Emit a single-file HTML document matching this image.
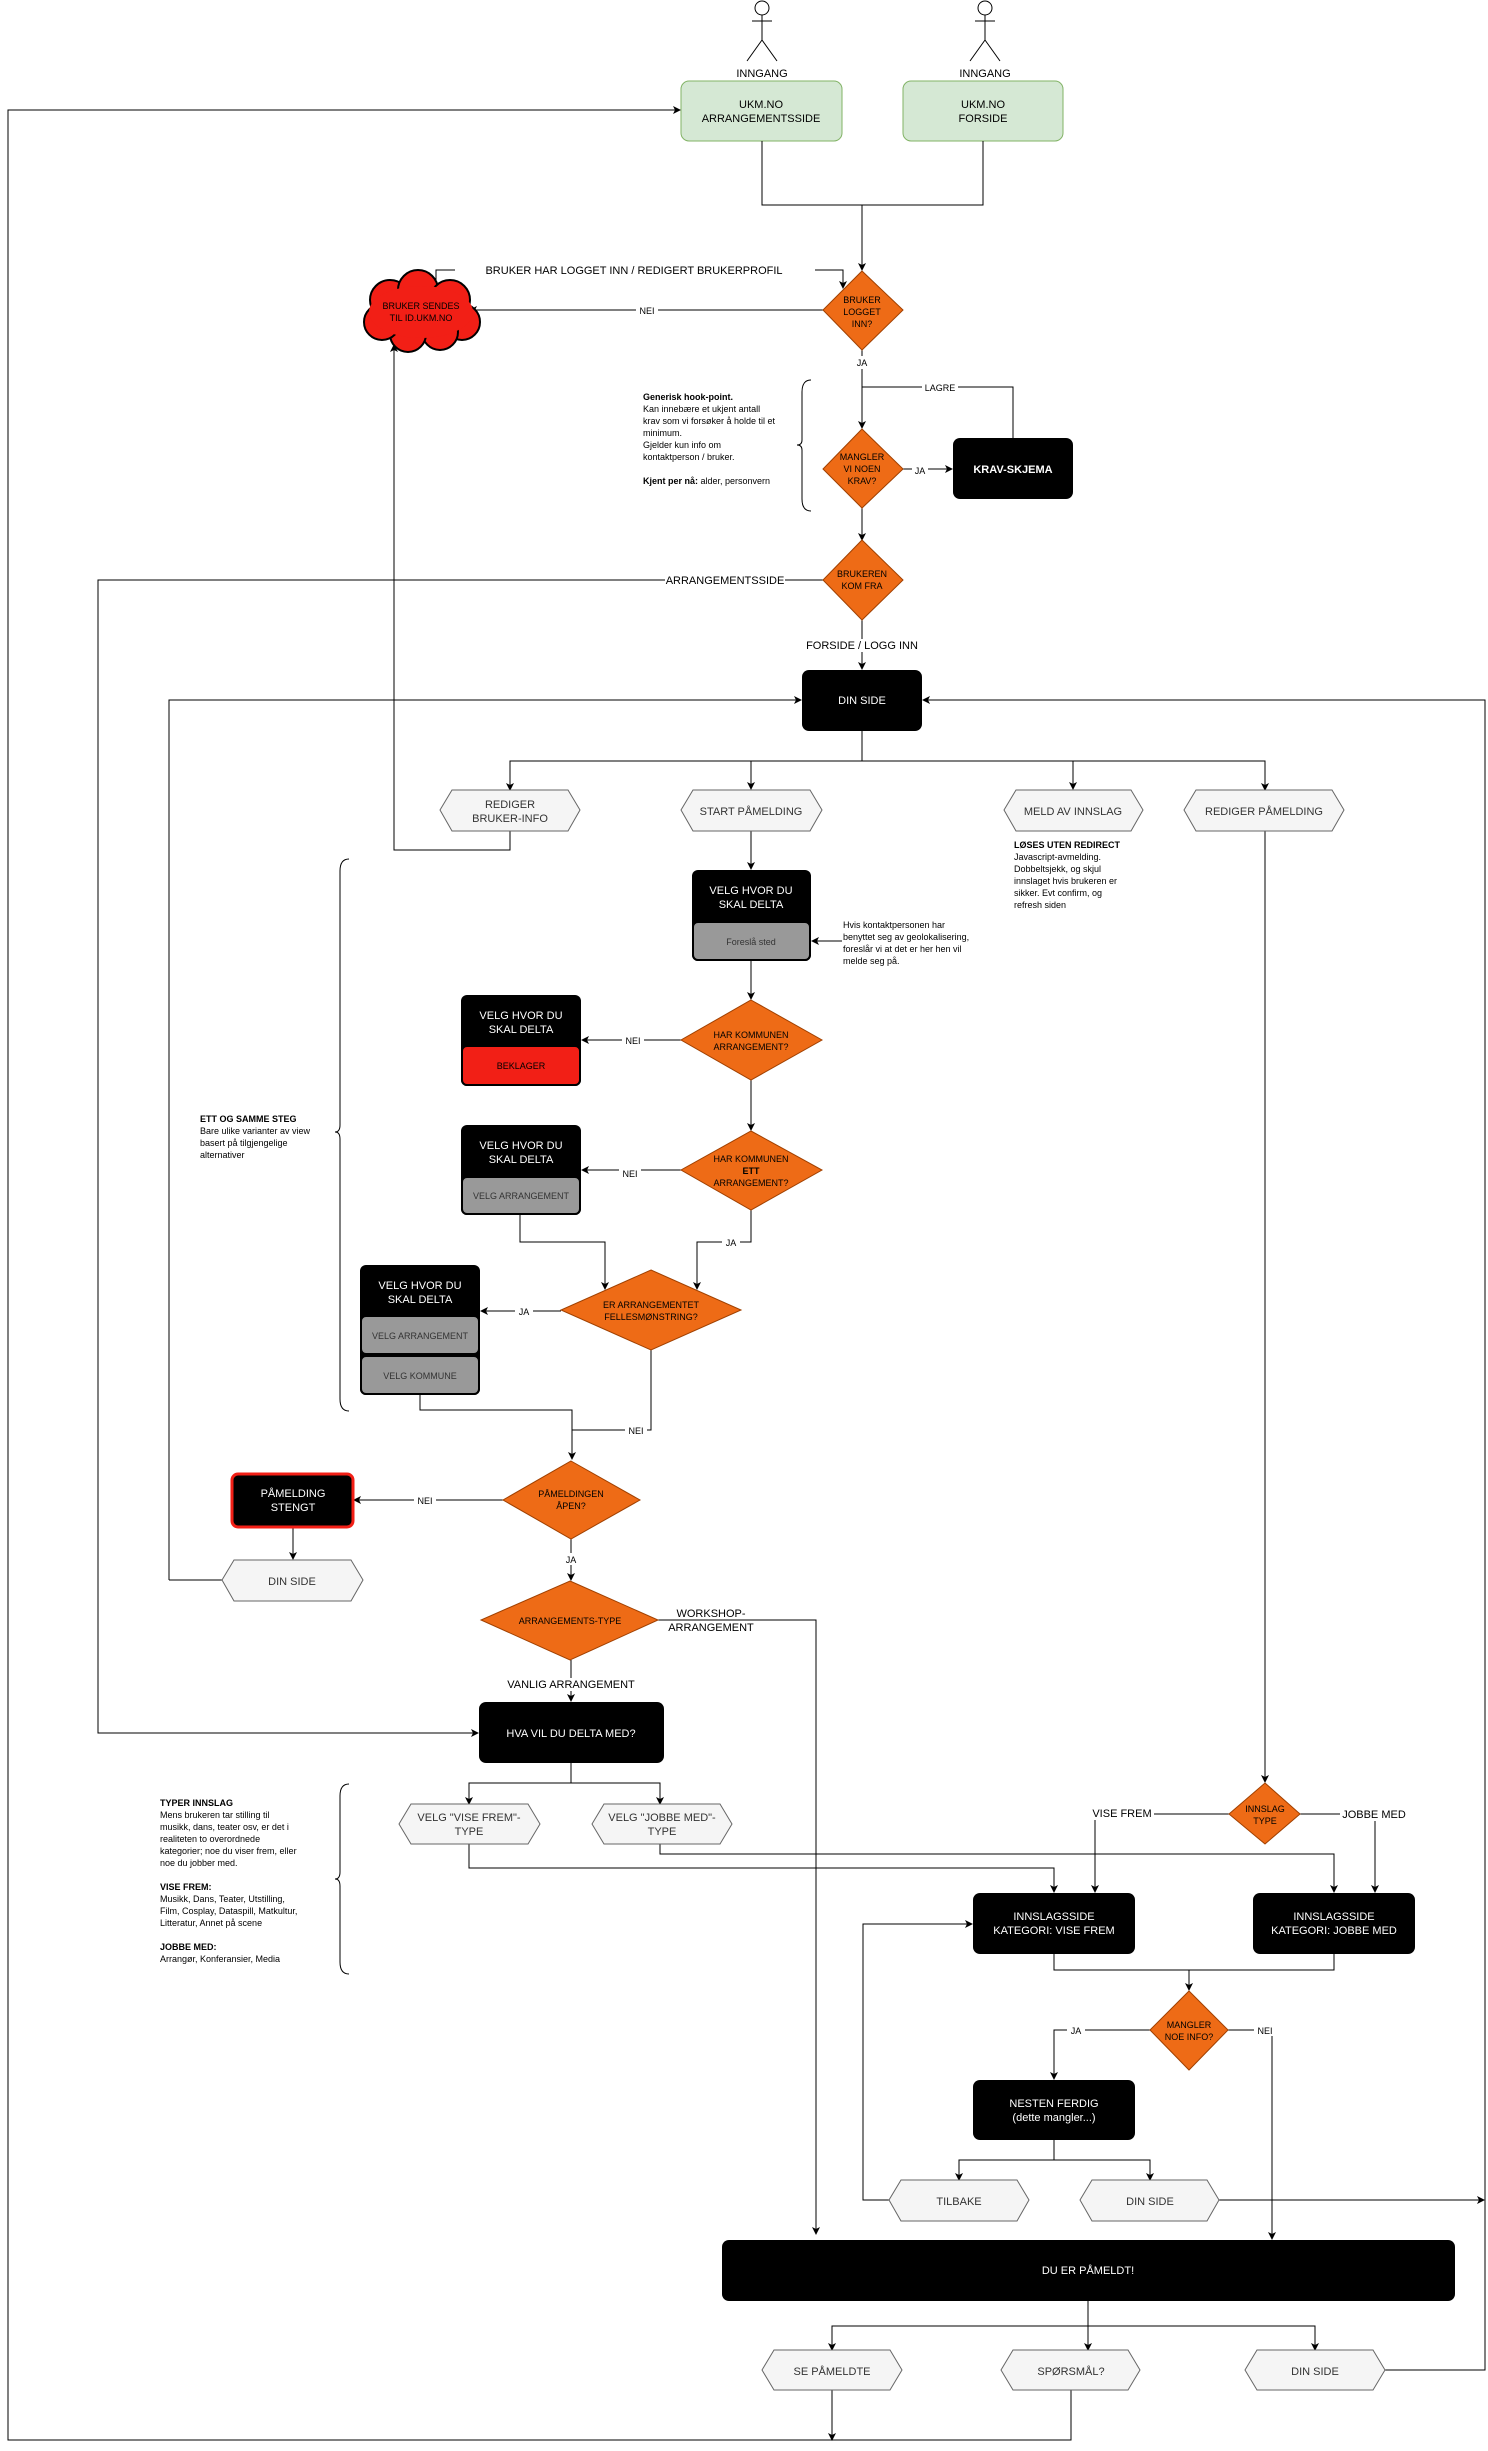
<!DOCTYPE html>
<html><head><meta charset="utf-8"><style>
html,body{margin:0;padding:0;background:#fff}
svg{display:block}
text{font-family:"Liberation Sans",Arial,sans-serif;font-size:11px;fill:#000}
.w{fill:#fff}.c{text-anchor:middle}.g{fill:#333}.b{font-weight:bold}.s{font-size:9px}
.ln{stroke:#000;stroke-width:1;fill:none}
.dm{fill:#EE6B16;stroke:#a04000;stroke-width:1}
.hx{fill:#f5f5f5;stroke:#666;stroke-width:1}
.bk{fill:#000}
.gr{fill:#999;stroke:#000;stroke-width:2}
</style></head><body>
<svg width="1488" height="2451" viewBox="0 0 1488 2451" xmlns="http://www.w3.org/2000/svg">
<defs><marker id="a" markerWidth="8" markerHeight="8" refX="7" refY="4" orient="auto" markerUnits="userSpaceOnUse"><path d="M0,0 L8,4 L0,8 L2,4 z" fill="#000"/></marker></defs>

<!-- actors -->
<g class="ln">
<circle cx="762" cy="8" r="7"/><line x1="762" y1="15" x2="762" y2="40"/><line x1="752" y1="21" x2="772" y2="21"/><line x1="762" y1="40" x2="747" y2="61"/><line x1="762" y1="40" x2="777" y2="61"/>
<circle cx="985" cy="8" r="7"/><line x1="985" y1="15" x2="985" y2="40"/><line x1="975" y1="21" x2="995" y2="21"/><line x1="985" y1="40" x2="970" y2="61"/><line x1="985" y1="40" x2="1000" y2="61"/>
</g>
<text x="762" y="77" class="c">INNGANG</text><text x="985" y="77" class="c">INNGANG</text>
<rect x="681" y="81" width="161" height="60" rx="8" fill="#D5E8D4" stroke="#82B366"/>
<rect x="903" y="81" width="160" height="60" rx="8" fill="#D5E8D4" stroke="#82B366"/>
<text x="761" y="108" class="c">UKM.NO</text><text x="761" y="122" class="c">ARRANGEMENTSSIDE</text>
<text x="983" y="108" class="c">UKM.NO</text><text x="983" y="122" class="c">FORSIDE</text>

<!-- connectors top -->
<g class="ln">
<polyline points="762,141 762,205 983,205 983,141"/>
<polyline points="862,205 862,270" marker-end="url(#a)"/>
<polyline points="823,310 470,310" marker-end="url(#a)"/>
<polyline points="436,282 436,270 843,270 843,288" marker-end="url(#a)"/>
<polyline points="862,350 862,428" marker-end="url(#a)"/>
<polyline points="862,387 1013,387 1013,438"/>
<polyline points="903,469 952,469" marker-end="url(#a)"/>
<polyline points="862,508 862,540" marker-end="url(#a)"/>
<polyline points="862,620 862,669" marker-end="url(#a)"/>
<polyline points="823,580 98,580 98,1733 478,1733" marker-end="url(#a)"/>
<polyline points="1071,2390 1071,2440 8,2440 8,110 680,110" marker-end="url(#a)"/>
<polyline points="510,831 510,850 394,850 394,345" marker-end="url(#a)"/>
</g>
<rect x="455" y="263" width="360" height="14" fill="#fff"/>
<text x="634" y="274" class="c">BRUKER HAR LOGGET INN / REDIGERT BRUKERPROFIL</text>
<rect x="636" y="304" width="22" height="12" fill="#fff"/><text x="647" y="314" class="c s">NEI</text>
<rect x="852" y="356" width="20" height="13" fill="#fff"/><text x="862" y="366" class="c s">JA</text>
<rect x="922" y="381" width="36" height="12" fill="#fff"/><text x="940" y="391" class="c s">LAGRE</text>
<rect x="912" y="464" width="16" height="12" fill="#fff"/><text x="920" y="474" class="c s">JA</text>
<rect x="665" y="574" width="120" height="13" fill="#fff"/><text x="725" y="584" class="c">ARRANGEMENTSSIDE</text>
<rect x="800" y="639" width="124" height="13" fill="#fff"/><text x="862" y="649" class="c">FORSIDE / LOGG INN</text>

<!-- cloud -->
<g fill="#F21F16" stroke="#000" stroke-width="2">
<circle cx="390" cy="300" r="20"/><circle cx="418" cy="290" r="20"/><circle cx="450" cy="300" r="20"/><circle cx="462" cy="322" r="18"/><circle cx="440" cy="332" r="18"/><circle cx="408" cy="334" r="18"/><circle cx="382" cy="322" r="18"/>
</g>
<ellipse cx="421" cy="312" rx="52" ry="26" fill="#F21F16"/>
<text x="421" y="309" class="c s">BRUKER SENDES</text><text x="421" y="321" class="c s">TIL ID.UKM.NO</text>

<!-- diamonds top -->
<polygon class="dm" points="862,271 903,310 862,350 823,310"/>
<text x="862" y="303" class="c s">BRUKER</text><text x="862" y="315" class="c s">LOGGET</text><text x="862" y="327" class="c s">INN?</text>
<polygon class="dm" points="862,429 903,469 862,508 823,469"/>
<text x="862" y="460" class="c s">MANGLER</text><text x="862" y="472" class="c s">VI NOEN</text><text x="862" y="484" class="c s">KRAV?</text>
<rect x="953" y="438" width="120" height="61" rx="7" class="bk"/>
<text x="1013" y="473" class="c w b">KRAV-SKJEMA</text>
<polygon class="dm" points="862,540 903,580 862,620 823,580"/>
<text x="862" y="577" class="c s">BRUKEREN</text><text x="862" y="589" class="c s">KOM FRA</text>

<g class="s"><text x="643" y="400" class="s b">Generisk hook-point.</text><text x="643" y="412" class="s">Kan innebære et ukjent antall</text><text x="643" y="424" class="s">krav som vi forsøker å holde til et</text><text x="643" y="436" class="s">minimum.</text><text x="643" y="448" class="s">Gjelder kun info om</text><text x="643" y="460" class="s">kontaktperson / bruker.</text><text x="643" y="484" class="s"><tspan class="b">Kjent per nå:</tspan> alder, personvern</text></g>
<path d="M811,380 Q802,380 802,392 L802,440 Q802,445 797,445 Q802,445 802,450 L802,499 Q802,511 811,511" class="ln" stroke-width="2"/>

<!-- DIN SIDE -->
<rect x="802" y="670" width="120" height="61" rx="7" class="bk"/>
<text x="862" y="704" class="c w">DIN SIDE</text>
<g class="ln">
<polyline points="169,1580 169,700 801,700" marker-end="url(#a)"/>
<polyline points="1385,2370 1485,2370 1485,700 923,700" marker-end="url(#a)"/>
<polyline points="862,731 862,761"/>
<polyline points="510,789 510,761 1265,761 1265,789"/>
<line x1="510" y1="782" x2="510" y2="790" marker-end="url(#a)"/>
<polyline points="751,761 751,789" marker-end="url(#a)"/>
<polyline points="1073,761 1073,789" marker-end="url(#a)"/>
<line x1="1265" y1="782" x2="1265" y2="790" marker-end="url(#a)"/>
<polyline points="751,831 751,869" marker-end="url(#a)"/>
<polyline points="1265,831 1265,1782" marker-end="url(#a)"/>
<polyline points="842,941 812,941" marker-end="url(#a)"/>
<polyline points="751,961 751,999" marker-end="url(#a)"/>
<polyline points="681,1040 582,1040" marker-end="url(#a)"/>
<polyline points="751,1080 751,1130" marker-end="url(#a)"/>
<polyline points="681,1170 582,1170" marker-end="url(#a)"/>
<polyline points="520,1215 520,1242 605,1242 605,1289" marker-end="url(#a)"/>
<polyline points="751,1210 751,1242 697,1242 697,1289" marker-end="url(#a)"/>
<polyline points="561,1311 481,1311" marker-end="url(#a)"/>
<polyline points="420,1395 420,1410 572,1410 572,1459" marker-end="url(#a)"/>
<polyline points="651,1350 651,1430 572,1430"/>
</g>
<!-- hexes row -->
<polygon class="hx" points="440,810 452,790 568,790 580,810 568,831 452,831"/>
<text x="510" y="808" class="c g">REDIGER</text><text x="510" y="822" class="c g">BRUKER-INFO</text>
<polygon class="hx" points="681,810 693,790 810,790 822,810 810,831 693,831"/>
<text x="751" y="815" class="c g">START PÅMELDING</text>
<polygon class="hx" points="1004,810 1016,790 1131,790 1143,810 1131,831 1016,831"/>
<text x="1073" y="815" class="c g">MELD AV INNSLAG</text>
<polygon class="hx" points="1184,810 1196,790 1332,790 1344,810 1332,831 1196,831"/>
<text x="1264" y="815" class="c g">REDIGER PÅMELDING</text>

<text x="1014" y="848" class="s b">LØSES UTEN REDIRECT</text>
<text x="1014" y="860" class="s">Javascript-avmelding.</text><text x="1014" y="872" class="s">Dobbeltsjekk, og skjul</text><text x="1014" y="884" class="s">innslaget hvis brukeren er</text><text x="1014" y="896" class="s">sikker. Evt confirm, og</text><text x="1014" y="908" class="s">refresh siden</text>

<!-- velg box 1 -->
<rect x="692" y="870" width="119" height="91" rx="6" class="bk"/>
<rect x="693" y="922" width="117" height="38" rx="5" class="gr"/>
<text x="751" y="894" class="c w">VELG HVOR DU</text><text x="751" y="908" class="c w">SKAL DELTA</text>
<text x="751" y="945" class="c s g">Foreslå sted</text>
<text x="843" y="928" class="s">Hvis kontaktpersonen har</text><text x="843" y="940" class="s">benyttet seg av geolokalisering,</text><text x="843" y="952" class="s">foreslår vi at det er her hen vil</text><text x="843" y="964" class="s">melde seg på.</text>

<polygon class="dm" points="751,1000 822,1040 751,1080 681,1040"/>
<text x="751" y="1038" class="c s">HAR KOMMUNEN</text><text x="751" y="1050" class="c s">ARRANGEMENT?</text>
<rect x="461" y="995" width="120" height="91" rx="6" class="bk"/>
<rect x="462" y="1046" width="118" height="39" rx="5" fill="#F21F16" stroke="#000" stroke-width="2"/>
<text x="521" y="1019" class="c w">VELG HVOR DU</text><text x="521" y="1033" class="c w">SKAL DELTA</text>
<text x="521" y="1069" class="c s">BEKLAGER</text>
<rect x="622" y="1034" width="22" height="12" fill="#fff"/><text x="633" y="1044" class="c s">NEI</text>

<polygon class="dm" points="751,1131 822,1170 751,1210 681,1170"/>
<text x="751" y="1162" class="c s">HAR KOMMUNEN</text><text x="751" y="1174" class="c s b">ETT</text><text x="751" y="1186" class="c s">ARRANGEMENT?</text>
<rect x="461" y="1125" width="120" height="90" rx="6" class="bk"/>
<rect x="462" y="1177" width="118" height="37" rx="5" class="gr"/>
<text x="521" y="1149" class="c w">VELG HVOR DU</text><text x="521" y="1163" class="c w">SKAL DELTA</text>
<text x="521" y="1199" class="c s g">VELG ARRANGEMENT</text>
<rect x="619" y="1167" width="22" height="12" fill="#fff"/><text x="630" y="1177" class="c s">NEI</text>
<rect x="722" y="1236" width="18" height="12" fill="#fff"/><text x="731" y="1246" class="c s">JA</text>

<polygon class="dm" points="651,1270 741,1310 651,1350 561,1310"/>
<text x="651" y="1308" class="c s">ER ARRANGEMENTET</text><text x="651" y="1320" class="c s">FELLESMØNSTRING?</text>
<rect x="360" y="1265" width="120" height="130" rx="6" class="bk"/>
<rect x="361" y="1316" width="118" height="38" rx="5" class="gr"/>
<rect x="361" y="1356" width="118" height="38" rx="5" class="gr"/>
<text x="420" y="1289" class="c w">VELG HVOR DU</text><text x="420" y="1303" class="c w">SKAL DELTA</text>
<text x="420" y="1339" class="c s g">VELG ARRANGEMENT</text><text x="420" y="1379" class="c s g">VELG KOMMUNE</text>
<rect x="515" y="1305" width="18" height="12" fill="#fff"/><text x="524" y="1315" class="c s">JA</text>
<rect x="625" y="1424" width="22" height="12" fill="#fff"/><text x="636" y="1434" class="c s">NEI</text>

<path d="M349,859 Q340,859 340,871 L340,1125 Q340,1132 335,1132 Q340,1132 340,1139 L340,1399 Q340,1411 349,1411" class="ln" stroke-width="2"/>
<text x="200" y="1122" class="s b">ETT OG SAMME STEG</text><text x="200" y="1134" class="s">Bare ulike varianter av view</text><text x="200" y="1146" class="s">basert på tilgjengelige</text><text x="200" y="1158" class="s">alternativer</text>

<!-- påmelding åpen -->
<g class="ln">
<polyline points="503,1500 354,1500" marker-end="url(#a)"/>
<polyline points="293,1527 293,1559" marker-end="url(#a)"/>
<polyline points="222,1580 169,1580"/>
<polyline points="571,1539 571,1580" marker-end="url(#a)"/>
<polyline points="658,1620 816,1620 816,2234" marker-end="url(#a)"/>
<polyline points="571,1660 571,1701" marker-end="url(#a)"/>
<polyline points="571,1763 571,1783"/>
<polyline points="469,1803 469,1783 660,1783 660,1803"/>
<line x1="469" y1="1796" x2="469" y2="1804" marker-end="url(#a)"/>
<line x1="660" y1="1796" x2="660" y2="1804" marker-end="url(#a)"/>
<polyline points="469,1844 469,1868 1054,1868 1054,1892" marker-end="url(#a)"/>
<polyline points="660,1844 660,1854 1334,1854 1334,1892" marker-end="url(#a)"/>
<polyline points="1229,1814 1095,1814 1095,1892" marker-end="url(#a)"/>
<polyline points="1300,1814 1375,1814 1375,1892" marker-end="url(#a)"/>
<polyline points="1054,1954 1054,1970 1334,1970 1334,1954"/>
<polyline points="1189,1970 1189,1990" marker-end="url(#a)"/>
<polyline points="1150,2030 1054,2030 1054,2079" marker-end="url(#a)"/>
<polyline points="1228,2030 1272,2030 1272,2239" marker-end="url(#a)"/>
<polyline points="1054,2140 1054,2160"/>
<polyline points="959,2179 959,2160 1150,2160 1150,2179"/>
<line x1="959" y1="2172" x2="959" y2="2180" marker-end="url(#a)"/>
<line x1="1150" y1="2172" x2="1150" y2="2180" marker-end="url(#a)"/>
<polyline points="889,2200 863,2200 863,1924 972,1924" marker-end="url(#a)"/>
<polyline points="1219,2200 1484,2200" marker-end="url(#a)"/>
<polyline points="1088,2301 1088,2326"/>
<polyline points="832,2349 832,2326 1315,2326 1315,2349"/>
<line x1="832" y1="2342" x2="832" y2="2350" marker-end="url(#a)"/>
<line x1="1315" y1="2342" x2="1315" y2="2350" marker-end="url(#a)"/>
<line x1="1088" y1="2326" x2="1088" y2="2350" marker-end="url(#a)"/>
<polyline points="832,2390 832,2440" marker-end="url(#a)"/>
</g>
<polygon class="dm" points="571,1461 640,1500 571,1539 503,1500"/>
<text x="571" y="1497" class="c s">PÅMELDINGEN</text><text x="571" y="1509" class="c s">ÅPEN?</text>
<rect x="232" y="1474" width="121" height="53" rx="6" class="bk" stroke="#F21F16" stroke-width="3"/>
<text x="293" y="1497" class="c w">PÅMELDING</text><text x="293" y="1511" class="c w">STENGT</text>
<rect x="414" y="1494" width="22" height="12" fill="#fff"/><text x="425" y="1504" class="c s">NEI</text>
<polygon class="hx" points="222,1580 234,1560 351,1560 363,1580 351,1601 234,1601"/>
<text x="292" y="1585" class="c g">DIN SIDE</text>
<rect x="562" y="1553" width="18" height="12" fill="#fff"/><text x="571" y="1563" class="c s">JA</text>
<polygon class="dm" points="570,1581 658,1620 570,1660 481,1620"/>
<text x="570" y="1624" class="c s">ARRANGEMENTS-TYPE</text>
<text x="711" y="1617" class="c">WORKSHOP-</text><text x="711" y="1631" class="c">ARRANGEMENT</text>
<rect x="500" y="1678" width="142" height="13" fill="#fff"/><text x="571" y="1688" class="c">VANLIG ARRANGEMENT</text>
<rect x="479" y="1702" width="185" height="61" rx="7" class="bk"/>
<text x="571" y="1737" class="c w">HVA VIL DU DELTA MED?</text>

<polygon class="hx" points="399,1824 411,1804 528,1804 540,1824 528,1844 411,1844"/>
<text x="469" y="1821" class="c g">VELG "VISE FREM"-</text><text x="469" y="1835" class="c g">TYPE</text>
<polygon class="hx" points="592,1824 604,1804 720,1804 732,1824 720,1844 604,1844"/>
<text x="662" y="1821" class="c g">VELG "JOBBE MED"-</text><text x="662" y="1835" class="c g">TYPE</text>
<path d="M349,1784 Q340,1784 340,1796 L340,1872 Q340,1879 335,1879 Q340,1879 340,1886 L340,1962 Q340,1974 349,1974" class="ln" stroke-width="2"/>
<text x="160" y="1806" class="s b">TYPER INNSLAG</text><text x="160" y="1818" class="s">Mens brukeren tar stilling til</text><text x="160" y="1830" class="s">musikk, dans, teater osv, er det i</text><text x="160" y="1842" class="s">realiteten to overordnede</text><text x="160" y="1854" class="s">kategorier; noe du viser frem, eller</text><text x="160" y="1866" class="s">noe du jobber med.</text>
<text x="160" y="1890" class="s b">VISE FREM:</text><text x="160" y="1902" class="s">Musikk, Dans, Teater, Utstilling,</text><text x="160" y="1914" class="s">Film, Cosplay, Dataspill, Matkultur,</text><text x="160" y="1926" class="s">Litteratur, Annet på scene</text>
<text x="160" y="1950" class="s b">JOBBE MED:</text><text x="160" y="1962" class="s">Arrangør, Konferansier, Media</text>

<polygon class="dm" points="1265,1783 1300,1814 1265,1844 1229,1814"/>
<text x="1265" y="1812" class="c s">INNSLAG</text><text x="1265" y="1824" class="c s">TYPE</text>
<rect x="1090" y="1807" width="64" height="13" fill="#fff"/><text x="1122" y="1817" class="c">VISE FREM</text>
<rect x="1340" y="1808" width="68" height="13" fill="#fff"/><text x="1374" y="1818" class="c">JOBBE MED</text>
<rect x="973" y="1893" width="162" height="61" rx="7" class="bk"/>
<text x="1054" y="1920" class="c w">INNSLAGSSIDE</text><text x="1054" y="1934" class="c w">KATEGORI: VISE FREM</text>
<rect x="1253" y="1893" width="162" height="61" rx="7" class="bk"/>
<text x="1334" y="1920" class="c w">INNSLAGSSIDE</text><text x="1334" y="1934" class="c w">KATEGORI: JOBBE MED</text>
<polygon class="dm" points="1189,1991 1228,2030 1189,2070 1150,2030"/>
<text x="1189" y="2028" class="c s">MANGLER</text><text x="1189" y="2040" class="c s">NOE INFO?</text>
<rect x="1067" y="2024" width="18" height="12" fill="#fff"/><text x="1076" y="2034" class="c s">JA</text>
<rect x="1254" y="2024" width="22" height="12" fill="#fff"/><text x="1265" y="2034" class="c s">NEI</text>
<rect x="973" y="2080" width="162" height="60" rx="7" class="bk"/>
<text x="1054" y="2107" class="c w">NESTEN FERDIG</text><text x="1054" y="2121" class="c w">(dette mangler...)</text>
<polygon class="hx" points="889,2200 901,2180 1017,2180 1029,2200 1017,2221 901,2221"/>
<text x="959" y="2205" class="c g">TILBAKE</text>
<polygon class="hx" points="1080,2200 1092,2180 1207,2180 1219,2200 1207,2221 1092,2221"/>
<text x="1150" y="2205" class="c g">DIN SIDE</text>
<rect x="722" y="2240" width="733" height="61" rx="7" class="bk"/>
<text x="1088" y="2274" class="c w">DU ER PÅMELDT!</text>
<polygon class="hx" points="762,2370 774,2350 890,2350 902,2370 890,2390 774,2390"/>
<text x="832" y="2375" class="c g">SE PÅMELDTE</text>
<polygon class="hx" points="1001,2370 1013,2350 1128,2350 1140,2370 1128,2390 1013,2390"/>
<text x="1071" y="2375" class="c g">SPØRSMÅL?</text>
<polygon class="hx" points="1245,2370 1257,2350 1373,2350 1385,2370 1373,2390 1257,2390"/>
<text x="1315" y="2375" class="c g">DIN SIDE</text>
</svg>
</body></html>
